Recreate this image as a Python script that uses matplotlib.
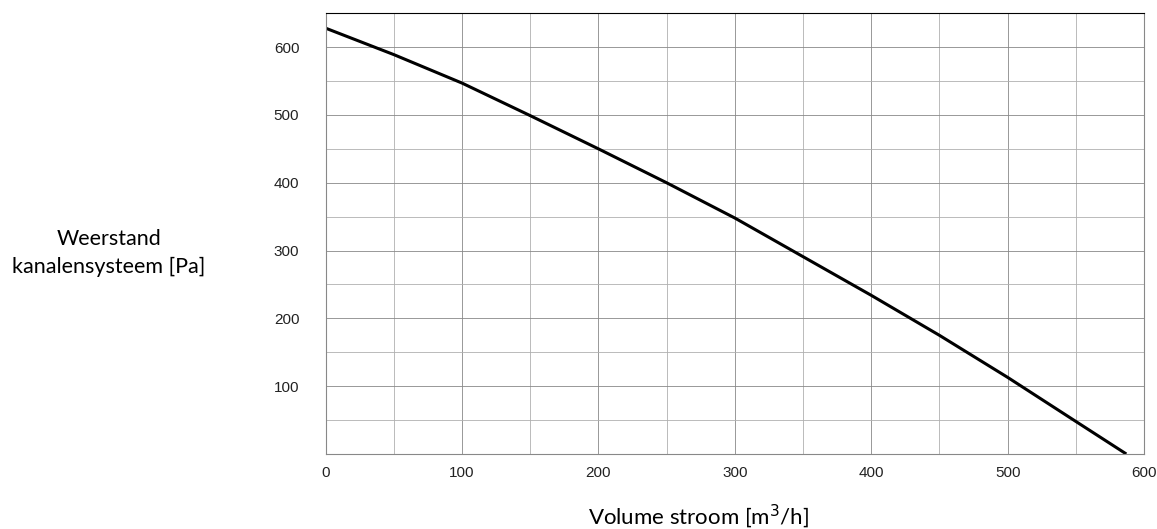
import matplotlib
matplotlib.use('Agg')
import matplotlib.pyplot as plt
from matplotlib.ticker import MultipleLocator

# curve
flow = [0, 50, 100, 150, 200, 250, 300, 350, 400, 450, 500, 550, 587]
pressure = [628, 589, 547, 499, 450, 400, 348, 291, 234, 175, 113, 48, 0]

x_ticks = [0, 100, 200, 300, 400, 500, 600]
y_ticks = [100, 200, 300, 400, 500, 600]

fig = plt.figure(figsize=(11.57, 5.29), dpi=100)
ax = fig.add_axes([0.2815, 0.1418, 0.7073, 0.8331])

ax.plot(flow, pressure, color='black', lw=2.2, solid_capstyle='butt')

ax.set_xlim(0, 600)
ax.set_ylim(0, 650)
ax.set_xticks(x_ticks)
ax.set_yticks(y_ticks)
ax.xaxis.set_minor_locator(MultipleLocator(50))
ax.yaxis.set_minor_locator(MultipleLocator(50))
ax.grid(which='major', color='#888888', lw=0.6)
ax.grid(which='minor', color='#b0b0b0', lw=0.6)
ax.set_axisbelow(True)

ax.tick_params(which='both', length=0)
ax.tick_params(axis='x', pad=9, labelsize=11)
ax.tick_params(axis='y', pad=19, labelsize=11)
for lab in ax.get_xticklabels() + ax.get_yticklabels():
    lab.set_family('Liberation Sans')
    lab.set_color('#222222')

for side in ['left', 'bottom', 'right']:
    ax.spines[side].set_color('#888888')
ax.spines['top'].set_color('black')

fig.text(0.604, 0.025, 'Volume stroom [m$^3$/h]', family='Lato', fontsize=16,
         ha='center', va='center')
fig.text(0.094, 0.522, 'Weerstand\nkanalensysteem [Pa]', family='Lato', fontsize=15.5,
         ha='center', va='center', linespacing=1.45)

fig.savefig('out.png', dpi=100)
